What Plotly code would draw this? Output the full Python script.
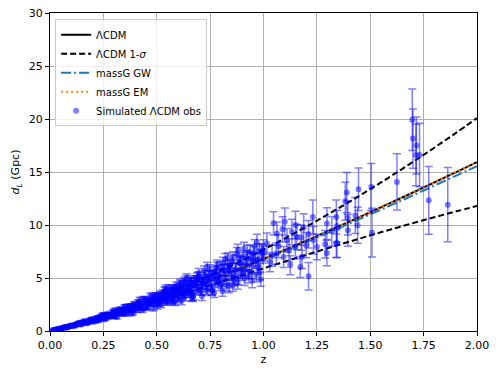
import plotly.graph_objects as go

# model curves at 0.1 steps in z
z_grid = [0.0, 0.1, 0.2, 0.3, 0.4, 0.5, 0.6, 0.7, 0.8, 0.9, 1.0,
          1.1, 1.2, 1.3, 1.4, 1.5, 1.6, 1.7, 1.8, 1.9, 2.0]
dl_lcdm = [0.0, 0.475, 1.012, 1.602, 2.240, 2.920, 3.637, 4.386, 5.164, 5.968, 6.795,
           7.643, 8.508, 9.391, 10.289, 11.202, 12.126, 13.064, 14.011, 14.970, 15.938]
dl_upper = [0.0, 0.481, 1.038, 1.664, 2.356, 3.110, 3.921, 4.785, 5.701, 6.666, 7.678,
            8.736, 9.835, 10.978, 12.162, 13.386, 14.648, 15.951, 17.290, 18.668, 20.082]
dl_lower = [0.0, 0.469, 0.986, 1.540, 2.124, 2.730, 3.353, 3.987, 4.627, 5.270, 5.912,
            6.550, 7.181, 7.804, 8.416, 9.018, 9.604, 10.177, 10.732, 11.272, 11.794]
dl_gw = [0.0, 0.474, 1.010, 1.596, 2.229, 2.902, 3.611, 4.349, 5.114, 5.904, 6.714,
         7.542, 8.385, 9.245, 10.116, 11.000, 11.893, 12.797, 13.708, 14.629, 15.555]
dl_em = dl_lcdm

# simulated observations (first batch)
z_obs_a = [0.010, 0.018, 0.027, 0.035, 0.046, 0.055, 0.063, 0.074, 0.082, 0.091,
           0.103, 0.112, 0.121, 0.133, 0.141, 0.152, 0.163, 0.171, 0.184, 0.193,
           0.204, 0.215, 0.226, 0.238, 0.247, 0.259, 0.268, 0.281, 0.292, 0.304,
           0.316, 0.327, 0.339, 0.351, 0.362, 0.374, 0.386, 0.397, 0.411, 0.423,
           0.436, 0.448, 0.461, 0.474, 0.487, 0.498,
           0.505, 0.512, 0.519, 0.527, 0.534, 0.541, 0.548, 0.556, 0.563, 0.570,
           0.577, 0.585, 0.592, 0.599, 0.606, 0.614, 0.621, 0.628, 0.635, 0.643,
           0.650, 0.657, 0.664, 0.672, 0.679, 0.686, 0.693, 0.701, 0.708, 0.715,
           0.722, 0.730, 0.737, 0.744, 0.751, 0.759, 0.766, 0.773, 0.780, 0.788,
           0.795, 0.802, 0.809, 0.817, 0.824, 0.831, 0.838, 0.846, 0.853, 0.860,
           0.867, 0.875, 0.882, 0.889, 0.896, 0.904, 0.911, 0.918, 0.925, 0.933,
           0.940, 0.947, 0.954, 0.962, 0.969, 0.976, 0.983, 0.991, 0.998,
           1.000, 1.016, 1.030, 1.040, 1.047, 1.060, 1.063, 1.070, 1.089, 1.094,
           1.100, 1.110, 1.120, 1.125, 1.133, 1.149, 1.150, 1.156, 1.172, 1.177,
           1.180, 1.188, 1.200, 1.211, 1.211, 1.231, 1.234, 1.250, 1.289, 1.297,
           1.297, 1.320, 1.341, 1.341, 1.344, 1.344, 1.383, 1.390, 1.395, 1.395,
           1.430, 1.441, 1.445, 1.505, 1.508, 1.625, 1.697, 1.700, 1.714, 1.716,
           1.731, 1.774, 1.863]
dl_obs_a = [0.05, 0.08, 0.14, 0.16, 0.22, 0.28, 0.28, 0.36, 0.38, 0.45,
            0.46, 0.56, 0.59, 0.63, 0.75, 0.75, 0.85, 0.80, 0.94, 1.03,
            1.00, 1.01, 1.22, 1.25, 1.22, 1.48, 1.38, 1.53, 1.45, 1.73,
            1.70, 1.70, 1.98, 1.75, 2.04, 2.18, 2.02, 2.40, 2.25, 2.42,
            2.24, 2.72, 2.73, 2.61, 3.09, 2.85,
            3.19, 2.65, 3.15, 3.58, 3.01, 3.54, 2.97, 3.36, 3.98, 2.94,
            3.68, 3.46, 4.01, 3.01, 3.83, 4.08, 3.49, 4.65, 3.78, 3.96,
            3.57, 4.63, 4.32, 3.38, 4.53, 4.75, 4.07, 5.10, 3.87, 4.59,
            5.65, 4.43, 3.97, 5.20, 5.07, 3.83, 5.54, 4.90, 5.96, 4.61,
            5.28, 4.35, 6.39, 5.73, 4.98, 6.06, 4.21, 5.81, 6.54, 5.02,
            5.70, 7.27, 5.01, 6.41, 5.64, 6.90, 4.97, 6.36, 7.41, 5.62,
            6.74, 4.77, 7.25, 6.61, 8.37, 6.07, 5.59, 7.46, 7.19,
            7.61, 8.25, 6.50, 7.10, 10.16, 7.30, 9.19, 8.00, 9.59, 6.98,
            10.30, 8.56, 7.60, 6.20, 9.34, 7.92, 10.00, 8.87, 6.04, 8.81,
            7.00, 9.75, 8.10, 9.12, 5.16, 10.75, 8.56, 7.92, 8.18, 10.13,
            7.36, 9.40, 10.75, 8.25, 9.90, 8.30, 12.24, 13.06, 10.66, 9.50,
            10.90, 9.97, 13.37, 13.60, 9.28, 14.06, 19.94, 18.15, 16.60, 17.50,
            16.60, 12.33, 11.92]
dl_err_a = [0.006, 0.009, 0.015, 0.018, 0.024, 0.03, 0.03, 0.04, 0.042, 0.05,
            0.05, 0.06, 0.065, 0.07, 0.08, 0.08, 0.09, 0.09, 0.10, 0.11,
            0.11, 0.11, 0.13, 0.14, 0.13, 0.16, 0.15, 0.17, 0.16, 0.19,
            0.19, 0.19, 0.22, 0.19, 0.22, 0.24, 0.22, 0.26, 0.25, 0.27,
            0.25, 0.30, 0.30, 0.29, 0.34, 0.31,
            0.30, 0.28, 0.32, 0.30, 0.33, 0.31, 0.34, 0.33, 0.35, 0.32,
            0.36, 0.34, 0.37, 0.35, 0.38, 0.37, 0.40, 0.38, 0.41, 0.39,
            0.42, 0.40, 0.43, 0.42, 0.45, 0.43, 0.46, 0.44, 0.47, 0.45,
            0.49, 0.47, 0.50, 0.48, 0.51, 0.49, 0.53, 0.51, 0.54, 0.52,
            0.56, 0.53, 0.57, 0.55, 0.58, 0.56, 0.60, 0.58, 0.62, 0.60,
            0.63, 0.61, 0.65, 0.63, 0.66, 0.64, 0.68, 0.66, 0.70, 0.67,
            0.71, 0.69, 0.73, 0.70, 0.75, 0.72, 0.76, 0.74, 0.78,
            1.0, 1.0, 0.9, 1.0, 1.1, 1.0, 1.1, 1.1, 1.2, 1.0,
            1.3, 1.1, 1.1, 0.9, 1.2, 1.1, 1.3, 1.2, 1.0, 1.2,
            1.1, 1.3, 1.2, 1.3, 1.3, 1.6, 1.3, 1.2, 1.3, 1.5,
            1.2, 1.4, 1.6, 1.3, 1.5, 1.4, 1.8, 1.9, 1.6, 1.5,
            1.7, 1.7, 2.0, 2.2, 2.3, 2.65, 2.9, 2.8, 2.9, 2.7,
            3.0, 3.2, 3.5]

# second batch, fills the dense band below z = 1
z_obs_b = [0.014, 0.022, 0.031, 0.040, 0.050, 0.059, 0.068, 0.078, 0.086, 0.096,
           0.107, 0.116, 0.127, 0.137, 0.146, 0.157, 0.167, 0.178, 0.188, 0.198,
           0.209, 0.220, 0.232, 0.242, 0.253, 0.263, 0.274, 0.286, 0.298, 0.310,
           0.321, 0.333, 0.345, 0.356, 0.368, 0.380, 0.391, 0.404, 0.417, 0.429,
           0.442, 0.455, 0.467, 0.480, 0.492,
           0.509, 0.516, 0.523, 0.531, 0.538, 0.545, 0.552, 0.560, 0.567, 0.574,
           0.581, 0.589, 0.596, 0.603, 0.610, 0.618, 0.625, 0.632, 0.639, 0.647,
           0.654, 0.661, 0.668, 0.676, 0.683, 0.690, 0.697, 0.705, 0.712, 0.719,
           0.726, 0.734, 0.741, 0.748, 0.755, 0.763, 0.770, 0.777, 0.784, 0.792,
           0.799, 0.806, 0.813, 0.821, 0.828, 0.835, 0.842, 0.850, 0.857, 0.864,
           0.871, 0.879, 0.886, 0.893, 0.900, 0.908, 0.915, 0.922, 0.929, 0.937,
           0.944, 0.951, 0.958, 0.966, 0.973, 0.980, 0.987, 0.995]
dl_obs_b = [0.06, 0.11, 0.14, 0.20, 0.22, 0.29, 0.34, 0.36, 0.45, 0.45,
            0.54, 0.53, 0.63, 0.73, 0.70, 0.73, 0.87, 0.90, 0.86, 1.06,
            1.10, 1.07, 1.32, 1.23, 1.42, 1.27, 1.51, 1.46, 1.76, 1.57,
            1.77, 1.96, 1.68, 2.06, 1.97, 2.30, 2.03, 2.29, 2.64, 2.22,
            2.68, 2.30, 2.80, 3.06, 2.69,
            2.69, 3.43, 2.96, 3.36, 3.80, 2.76, 3.36, 3.72, 3.13, 4.00,
            2.80, 3.74, 3.93, 3.22, 4.53, 3.70, 4.36, 3.22, 4.16, 4.39,
            3.76, 4.83, 3.19, 4.33, 4.77, 3.92, 5.46, 3.81, 4.84, 4.40,
            5.28, 3.81, 4.89, 5.76, 4.28, 5.22, 3.65, 5.63, 5.09, 4.80,
            6.03, 4.53, 5.74, 6.77, 4.31, 5.72, 6.16, 5.12, 6.92, 4.83,
            5.85, 4.52, 6.79, 6.38, 5.37, 7.78, 5.79, 6.83, 5.15, 7.47,
            5.57, 6.77, 8.00, 5.28, 6.77, 7.56, 4.88, 7.43]
dl_err_b = [0.007, 0.012, 0.015, 0.022, 0.024, 0.032, 0.037, 0.04, 0.05, 0.05,
            0.06, 0.06, 0.07, 0.08, 0.077, 0.08, 0.096, 0.10, 0.095, 0.12,
            0.12, 0.12, 0.145, 0.135, 0.156, 0.14, 0.166, 0.16, 0.19, 0.17,
            0.195, 0.216, 0.185, 0.227, 0.217, 0.25, 0.22, 0.25, 0.29, 0.24,
            0.29, 0.25, 0.31, 0.34, 0.30,
            0.30, 0.31, 0.31, 0.32, 0.32, 0.33, 0.33, 0.34, 0.34, 0.35,
            0.35, 0.36, 0.36, 0.37, 0.37, 0.38, 0.38, 0.39, 0.39, 0.40,
            0.40, 0.41, 0.41, 0.42, 0.43, 0.43, 0.44, 0.44, 0.45, 0.45,
            0.46, 0.47, 0.47, 0.48, 0.48, 0.49, 0.49, 0.50, 0.50, 0.51,
            0.52, 0.52, 0.53, 0.53, 0.54, 0.54, 0.55, 0.56, 0.56, 0.57,
            0.57, 0.58, 0.59, 0.59, 0.60, 0.60, 0.61, 0.62, 0.62, 0.63,
            0.63, 0.64, 0.64, 0.65, 0.66, 0.66, 0.67, 0.68]

# third batch, widens the band below z = 0.7
z_obs_c = [0.016, 0.029, 0.043, 0.057, 0.071, 0.084, 0.098, 0.110, 0.124, 0.139,
           0.150, 0.161, 0.175, 0.186, 0.200, 0.212, 0.223, 0.235, 0.250, 0.261,
           0.272, 0.284, 0.295, 0.307, 0.319, 0.330, 0.342, 0.354, 0.365, 0.377,
           0.389, 0.400, 0.414, 0.426, 0.439, 0.451, 0.464, 0.477, 0.490, 0.502,
           0.514, 0.526, 0.538, 0.550, 0.562, 0.574, 0.586, 0.598, 0.610, 0.622,
           0.634, 0.646, 0.658, 0.670, 0.682, 0.694]
dl_obs_c = [0.09, 0.12, 0.22, 0.23, 0.39, 0.38, 0.51, 0.46, 0.63, 0.79,
            0.66, 0.87, 0.74, 1.06, 0.97, 1.20, 0.98, 1.33, 1.53, 1.21,
            1.51, 1.37, 1.79, 1.37, 1.90, 1.85, 1.63, 2.30, 1.86, 2.34,
            1.78, 2.37, 2.69, 2.18, 2.98, 2.22, 2.89, 2.63, 3.31, 2.38,
            3.35, 2.89, 3.83, 2.79, 3.67, 3.93, 2.79, 3.80, 4.38, 3.35,
            4.75, 3.62, 4.60, 3.33, 4.55, 5.08]
dl_err_c = [0.008, 0.015, 0.022, 0.03, 0.037, 0.044, 0.051, 0.058, 0.066, 0.075,
            0.082, 0.088, 0.097, 0.10, 0.11, 0.12, 0.13, 0.13, 0.14, 0.15,
            0.16, 0.17, 0.17, 0.18, 0.19, 0.20, 0.21, 0.21, 0.22, 0.23,
            0.24, 0.25, 0.26, 0.27, 0.28, 0.28, 0.29, 0.30, 0.31, 0.32,
            0.33, 0.34, 0.35, 0.36, 0.37, 0.38, 0.39, 0.40, 0.41, 0.42,
            0.43, 0.44, 0.45, 0.46, 0.47, 0.48]

# fourth batch, the outer edges of the band
z_obs_d = [0.020, 0.038, 0.052, 0.066, 0.080, 0.094, 0.118, 0.130, 0.144, 0.158,
           0.172, 0.190, 0.206, 0.218, 0.230, 0.244, 0.256, 0.270, 0.289, 0.301,
           0.313, 0.324, 0.336, 0.348, 0.359, 0.371, 0.383, 0.394, 0.408, 0.420,
           0.433, 0.445, 0.458, 0.470, 0.484, 0.495, 0.520, 0.544, 0.568, 0.592,
           0.616, 0.640, 0.664, 0.688, 0.712, 0.736, 0.760, 0.784, 0.808, 0.832,
           0.856, 0.880]
dl_obs_d = [0.08, 0.22, 0.21, 0.37, 0.30, 0.51, 0.50, 0.76, 0.59, 0.96,
            0.74, 1.11, 0.84, 1.26, 1.00, 1.54, 1.09, 1.64, 1.34, 1.99,
            1.31, 2.07, 1.63, 2.29, 1.62, 2.34, 1.64, 2.58, 1.95, 2.97,
            1.97, 3.03, 2.27, 3.34, 2.14, 3.35, 2.48, 4.08, 2.83, 4.33,
            2.82, 5.04, 3.21, 5.07, 3.27, 6.07, 3.83, 6.25, 3.76, 6.88,
            4.27, 7.67]
dl_err_d = [0.009, 0.016, 0.022, 0.028, 0.034, 0.04, 0.05, 0.057, 0.064, 0.07,
            0.078, 0.086, 0.094, 0.10, 0.11, 0.11, 0.12, 0.13, 0.14, 0.14,
            0.15, 0.16, 0.16, 0.17, 0.18, 0.18, 0.19, 0.20, 0.21, 0.21,
            0.22, 0.23, 0.24, 0.24, 0.25, 0.26, 0.28, 0.29, 0.31, 0.32,
            0.34, 0.35, 0.37, 0.39, 0.40, 0.42, 0.44, 0.45, 0.47, 0.49,
            0.51, 0.52]

z_obs = z_obs_a + z_obs_b + z_obs_c + z_obs_d
dl_obs = dl_obs_a + dl_obs_b + dl_obs_c + dl_obs_d
dl_err = dl_err_a + dl_err_b + dl_err_c + dl_err_d

FONT = "DejaVu Sans"
obs_color = "rgba(0,0,255,0.5)"

fig = go.Figure()

fig.add_trace(go.Scatter(
    x=z_grid, y=dl_lcdm, mode="lines", name="ΛCDM", line_shape="spline",
    line=dict(color="black", width=2), legendrank=1))
fig.add_trace(go.Scatter(
    x=z_grid, y=dl_upper, mode="lines", name="ΛCDM 1-<i>σ</i>", line_shape="spline",
    line=dict(color="black", width=2, dash="6px,3px"),
    legendgroup="sig", legendrank=2))
fig.add_trace(go.Scatter(
    x=z_grid, y=dl_lower, mode="lines", name="ΛCDM 1-<i>σ</i>", line_shape="spline",
    line=dict(color="black", width=2, dash="6px,3px"),
    legendgroup="sig", showlegend=False))
fig.add_trace(go.Scatter(
    x=z_grid, y=dl_gw, mode="lines", name="massG GW", line_shape="spline",
    line=dict(color="#1f77b4", width=2, dash="10px,3px,2px,3px"), legendrank=3))
fig.add_trace(go.Scatter(
    x=z_grid, y=dl_em, mode="lines", name="massG EM", line_shape="spline",
    line=dict(color="#ff7f0e", width=2, dash="2px,3px"), legendrank=4))

# points go on top of the curves, as in the original
fig.add_trace(go.Scatter(
    x=z_obs, y=dl_obs, mode="markers", name="Simulated ΛCDM obs",
    marker=dict(color=obs_color, size=6, line=dict(width=0)),
    error_y=dict(type="data", array=dl_err, visible=True,
                 color=obs_color, thickness=1.5, width=4),
    legendrank=5))

axis_common = dict(
    showline=True, linecolor="black", linewidth=1, mirror=True,
    ticks="outside", ticklen=4, tickcolor="black",
    showgrid=True, gridcolor="#b0b0b0", gridwidth=1, zeroline=False,
    tickfont=dict(family=FONT, size=11, color="black"),
    automargin=False,
)

fig.update_xaxes(range=[0, 2], tick0=0, dtick=0.25, tickformat=".2f",
                 title=dict(text="z", font=dict(family=FONT, size=11, color="black"),
                            standoff=4),
                 **axis_common)
fig.update_yaxes(range=[0, 30], tick0=0, dtick=5,
                 title=dict(text="<i>d</i><sub><i>L</i></sub> (Gpc)",
                            font=dict(family=FONT, size=11, color="black"), standoff=6),
                 **axis_common)

fig.update_layout(
    width=499, height=376,
    margin=dict(l=50, r=22, t=13, b=45),
    paper_bgcolor="white", plot_bgcolor="white",
    font=dict(family=FONT, size=11, color="black"),
    legend=dict(x=0.012, y=0.98, xanchor="left", yanchor="top",
                bgcolor="rgba(255,255,255,0.8)", bordercolor="#cccccc", borderwidth=1,
                font=dict(family=FONT, size=10), tracegroupgap=0, itemwidth=30),
    showlegend=True,
)

# drop the default 8px page margin so the figure sits at the window corner
fig.write_html("out.html", config={"displayModeBar": False},
               post_script="document.body.style.margin='0';")
